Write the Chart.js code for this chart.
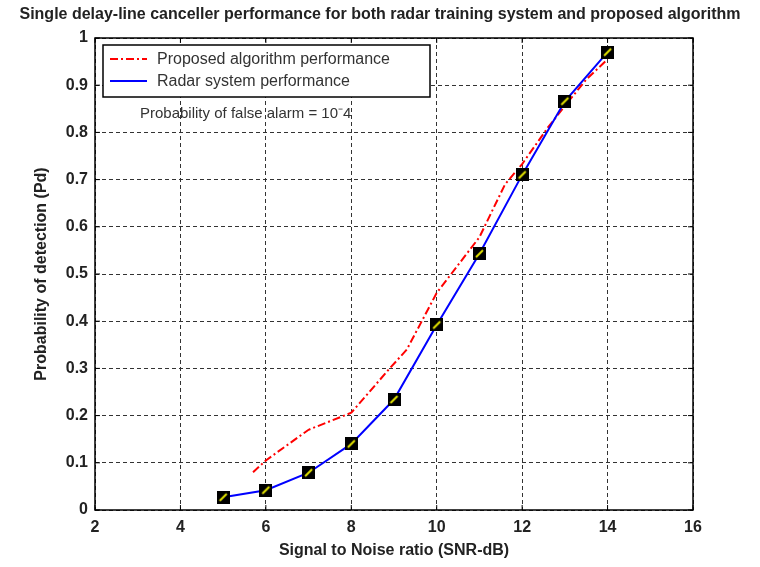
<!DOCTYPE html>
<html>
<head>
    <title>Single delay-line canceller performance</title>
    <script src="https://cdn.jsdelivr.net/npm/chart.js"></script>
    <style>
        body { margin: 0; background: #fff; }
    </style>
</head>
<body>
    <canvas id="chart" width="760" height="567"></canvas>

    <script>
        // values
        const snrRadar = [5, 6, 7, 8, 9, 10, 11, 12, 13, 14];
        const pdRadar = [0.027, 0.042, 0.079, 0.14, 0.234, 0.392, 0.543, 0.71, 0.866, 0.97];

        const snrProposed = [5.7, 6, 7, 8, 8.9, 9.3, 10, 11, 11.6, 12, 12.6, 13, 13.5, 14];
        const pdProposed = [0.08, 0.105, 0.17, 0.206, 0.3, 0.34, 0.46, 0.578, 0.69, 0.733, 0.81, 0.856, 0.912, 0.955];

        const xTickLabels = ['2', '4', '6', '8', '10', '12', '14', '16'];
        const yTickLabels = ['0', '0.1', '0.2', '0.3', '0.4', '0.5', '0.6', '0.7', '0.8', '0.9', '1'];

        const seriesNames = ['Proposed algorithm performance', 'Radar system performance'];
        const titleText = 'Single delay-line canceller performance for both radar training system and proposed algorithm';
        const noteText = 'Probability of false alarm = 10\u207B4';

        const narrow = "'Liberation Sans Narrow', 'Arial Narrow', 'Liberation Sans', sans-serif";
        const plain = "'Liberation Sans', Arial, sans-serif";

        // black square marker with a yellow slash
        const marker = document.createElement('canvas');
        marker.width = 13;
        marker.height = 13;
        const m = marker.getContext('2d');
        m.fillStyle = '#000';
        m.fillRect(0, 0, 13, 13);
        m.strokeStyle = '#e8e800';
        m.lineWidth = 2;
        m.beginPath();
        m.moveTo(3, 10);
        m.lineTo(10, 3);
        m.stroke();

        const redDash = [8, 3, 2, 3];

        // plot box, inner ticks, legend box, note and the page-wide title
        const frame = {
            id: 'frame',
            beforeDatasetsDraw(chart) {
                const {ctx, chartArea: a, scales} = chart;
                ctx.save();
                ctx.strokeStyle = '#000';
                ctx.lineWidth = 1;
                ctx.setLineDash([]);
                ctx.beginPath();
                xTickLabels.forEach(t => {
                    const x = scales.x.getPixelForValue(Number(t));
                    ctx.moveTo(x, a.bottom); ctx.lineTo(x, a.bottom - 5);
                    ctx.moveTo(x, a.top); ctx.lineTo(x, a.top + 5);
                });
                yTickLabels.forEach(t => {
                    const y = scales.y.getPixelForValue(Number(t));
                    ctx.moveTo(a.left, y); ctx.lineTo(a.left + 5, y);
                    ctx.moveTo(a.right, y); ctx.lineTo(a.right - 5, y);
                });
                ctx.stroke();
                ctx.lineWidth = 1.5;
                ctx.strokeRect(a.left, a.top, a.right - a.left, a.bottom - a.top);
                ctx.restore();
            },
            afterDraw(chart) {
                const {ctx, chartArea: a} = chart;
                ctx.save();

                ctx.fillStyle = '#222';
                ctx.font = 'bold 16px ' + narrow;
                ctx.textAlign = 'center';
                ctx.textBaseline = 'middle';
                ctx.fillText(titleText, chart.width / 2, 15, 750);
                ctx.textAlign = 'left';

                const bx = a.left + 8, by = a.top + 7, bw = 327, bh = 52;
                ctx.fillStyle = '#fff';
                ctx.fillRect(bx, by, bw, bh);
                ctx.strokeStyle = '#000';
                ctx.lineWidth = 1.5;
                ctx.strokeRect(bx, by, bw, bh);

                const ds = chart.data.datasets;
                ds.forEach((d, i) => {
                    const y = by + 14 + i * 22;
                    ctx.strokeStyle = d.borderColor;
                    ctx.lineWidth = 2;
                    ctx.setLineDash(d.borderDash || []);
                    ctx.beginPath();
                    ctx.moveTo(bx + 7, y);
                    ctx.lineTo(bx + 44, y);
                    ctx.stroke();
                    ctx.setLineDash([]);
                    ctx.fillStyle = '#333';
                    ctx.font = '16px ' + plain;
                    ctx.fillText(d.label, bx + 54, y + 1);
                });

                ctx.fillStyle = '#333';
                ctx.font = '15px ' + plain;
                ctx.fillText(noteText, a.left + 45, a.top + 76);
                ctx.restore();
            }
        };

        const ctx = document.getElementById('chart').getContext('2d');
        new Chart(ctx, {
            type: 'line',
            data: {
                datasets: [{
                    label: seriesNames[0],
                    data: snrProposed.map((x, i) => ({x: x, y: pdProposed[i]})),
                    borderColor: '#ff0000',
                    borderWidth: 2,
                    borderDash: redDash,
                    pointRadius: 0,
                    fill: false,
                    order: 1
                }, {
                    label: seriesNames[1],
                    data: snrRadar.map((x, i) => ({x: x, y: pdRadar[i]})),
                    borderColor: '#0000ff',
                    borderWidth: 2,
                    pointStyle: marker,
                    pointRadius: 6,
                    fill: false,
                    order: 0
                }]
            },
            options: {
                responsive: false,
                animation: false,
                layout: { padding: { left: 0, right: 67, top: 38, bottom: 0 } },
                plugins: {
                    legend: { display: false },
                    tooltip: { enabled: false },
                    title: { display: false }
                },
                scales: {
                    x: {
                        type: 'linear',
                        min: 2,
                        max: 16,
                        afterBuildTicks: s => { s.ticks = xTickLabels.map(v => ({value: Number(v)})); },
                        afterFit: s => { s.height = 57; },
                        ticks: {
                            color: '#222',
                            padding: 8,
                            font: { family: narrow, size: 16, weight: 'bold' },
                            callback: (v, i) => xTickLabels[i]
                        },
                        grid: { color: '#333', lineWidth: 1, drawTicks: false },
                        border: { display: false, dash: [4, 3] },
                        title: {
                            display: true,
                            text: 'Signal to Noise ratio (SNR-dB)',
                            color: '#222',
                            font: { family: narrow, size: 16, weight: 'bold' },
                            padding: { top: 0, bottom: 7 }
                        }
                    },
                    y: {
                        min: 0,
                        max: 1,
                        afterBuildTicks: s => { s.ticks = yTickLabels.map(v => ({value: Number(v)})); },
                        afterFit: s => { s.width = 95; },
                        ticks: {
                            color: '#222',
                            padding: 7,
                            font: { family: narrow, size: 16, weight: 'bold' },
                            callback: (v, i) => yTickLabels[i]
                        },
                        grid: { color: '#333', lineWidth: 1, drawTicks: false },
                        border: { display: false, dash: [4, 3] },
                        title: {
                            display: true,
                            text: 'Probability of detection (Pd)',
                            color: '#222',
                            font: { family: narrow, size: 16, weight: 'bold' },
                            padding: { top: 32, bottom: 0 }
                        }
                    }
                }
            },
            plugins: [frame]
        });
    </script>
</body>
</html>
